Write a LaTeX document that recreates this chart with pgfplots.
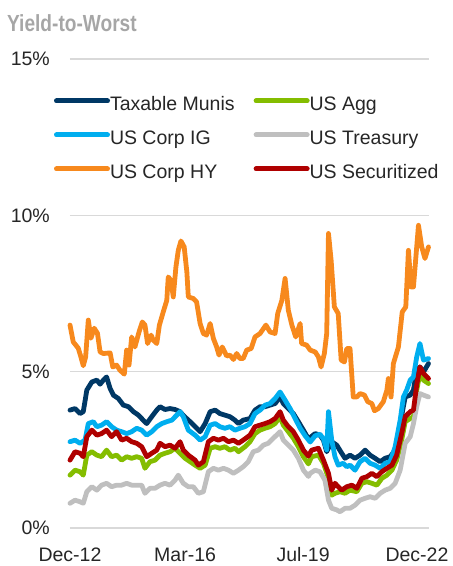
\documentclass[border=0pt]{standalone}
\usepackage{fontspec}
\setmainfont{Liberation Sans}
\usepackage{graphicx}
\usepackage{pgfplots}
\pgfplotsset{compat=1.18}
\definecolor{cnavy}{RGB}{0,56,101}
\definecolor{cgreen}{RGB}{132,189,0}
\definecolor{cblue}{RGB}{0,174,239}
\definecolor{cgray}{RGB}{191,191,191}
\definecolor{corange}{RGB}{247,137,29}
\definecolor{cred}{RGB}{175,0,0}
\definecolor{gridgray}{RGB}{217,217,217}
\definecolor{textgray}{RGB}{38,38,38}
\definecolor{titlegray}{RGB}{166,166,166}
\begin{document}
\begin{tikzpicture}
\begin{axis}[
  scale only axis, width=358.5bp, height=469bp,
  xmin=0, xmax=121.5, ymin=0, ymax=15,
  axis line style={draw=none},
  major tick length=0pt,
  ytick={0,5,10,15}, yticklabels={0\%,5\%,10\%,15\%},
  xtick={0,39,79,117.6}, xticklabels={Dec-12,Mar-16,Jul-19,Dec-22},
  ymajorgrids, grid style={color=gridgray, line width=1.5bp},
  tick label style={font=\fontsize{19.5bp}{23bp}\selectfont, text=textgray},
  yticklabel style={anchor=east, inner sep=0pt, xshift=-20bp},
  xticklabel style={anchor=base, inner sep=0pt, yshift=-33.5bp},
  clip=false,
  every axis plot/.append style={line width=4.8bp, line join=round, line cap=round},
  legend columns=2,
  legend cell align=left,
  legend image code/.code={\draw[#1,line width=5bp,line cap=round] (0bp,5bp) -- (51bp,5bp);},
  legend style={draw=none, fill=none, inner sep=0pt, outer sep=0pt,
    at={(-0.0446,0.919)}, anchor=north west,
    font=\fontsize{19.5bp}{23bp}\selectfont, text=textgray,
    row sep=16bp,
    nodes={inner sep=0pt, text height=14bp, text depth=4bp},
    /tikz/every odd column/.style={column sep=0bp},
    /tikz/every even column/.style={column sep=19bp}},
]
% Taxable Munis
\addplot[cnavy] coordinates {
(0,3.77)(1.7,3.82)(3.4,3.66)(4.5,3.72)(5.7,4.41)(7.4,4.67)(9.1,4.73)(10.2,4.60)(11.3,4.73)(12.4,4.83)
(13.6,4.46)(14.7,4.25)(16.4,4.14)(18.1,3.93)(19.8,3.88)(21.5,3.72)(23.2,3.61)(24.8,3.45)(26.0,3.34)(27.7,3.56)
(29.4,3.77)(30.5,3.88)(32.2,3.79)(33.9,3.82)(35.6,3.79)(37.3,3.72)(38.4,3.60)(40.7,3.40)(42.4,3.24)(44.1,3.08)
(45.8,3.34)(47.5,3.72)(49.2,3.77)(50.8,3.66)(52.5,3.61)(54.2,3.56)(55.9,3.45)(57.1,3.34)(58.7,3.45)(61.0,3.50)
(62.7,3.77)(64.4,3.88)(66.1,3.88)(67.8,3.93)(69.5,3.98)(71.2,4.19)(72.3,3.98)(74.0,3.82)(75.7,3.66)(77.4,3.40)
(79.1,3.13)(80.8,2.85)(83.1,3.02)(84.7,2.97)(85.9,2.81)(87.0,2.44)(88.7,2.76)(90.4,2.65)(92.1,2.39)(93.2,2.23)
(94.9,2.33)(96.6,2.23)(98.3,2.33)(100.0,2.49)(101.7,2.33)(103.4,2.23)(105.1,2.12)(106.8,2.23)(108.5,2.28)(110.2,2.49)
(111.9,3.34)(113.6,4.19)(115.3,4.25)(116.4,4.41)(117.5,5.05)(118.6,5.15)(119.8,4.99)(121.5,5.26)
};
\addlegendentry{Taxable Munis}
% US Agg
\addplot[cgreen] coordinates {
(0,1.69)(1.7,1.85)(3.4,1.80)(4.5,1.69)(5.7,2.33)(7.4,2.44)(9.1,2.33)(10.7,2.28)(12.4,2.49)(14.1,2.28)
(15.8,2.33)(17.5,2.17)(19.2,2.28)(20.9,2.23)(22.6,2.28)(24.3,2.23)(25.4,1.91)(27.1,2.12)(28.8,2.17)(30.5,2.33)
(32.2,2.39)(33.9,2.44)(35.6,2.55)(37.3,2.39)(39.0,2.23)(40.7,2.12)(42.4,2.01)(44.1,1.91)(45.8,2.01)(47.5,2.55)
(49.2,2.60)(50.8,2.55)(52.5,2.60)(54.2,2.49)(55.9,2.55)(57.1,2.44)(59.3,2.60)(61.0,2.76)(62.7,3.02)(64.4,3.13)
(66.1,3.19)(67.8,3.24)(69.5,3.34)(71.2,3.56)(72.3,3.29)(74.0,3.08)(75.7,2.87)(77.4,2.60)(79.1,2.28)(80.8,2.05)
(81.9,2.28)(84.2,2.33)(85.9,2.07)(87.6,1.59)(88.7,1.05)(89.8,1.11)(91.5,1.16)(93.2,1.11)(94.9,1.21)(97.2,1.16)
(98.9,1.43)(100.6,1.48)(102.3,1.43)(104.0,1.37)(105.7,1.59)(107.4,1.69)(109.1,1.85)(110.7,2.17)(112.4,2.81)(113.6,3.40)
(115.3,3.50)(116.4,3.56)(117.5,4.41)(118.6,4.94)(119.8,4.73)(121.5,4.62)
};
\addlegendentry{US Agg}
% US Corp IG
\addplot[cblue] coordinates {
(0,2.76)(1.7,2.81)(3.4,2.71)(5.1,2.81)(6.2,3.34)(7.9,3.40)(9.1,3.24)(10.7,3.29)(12.4,3.40)(14.1,3.24)
(15.8,3.13)(17.5,3.08)(19.2,3.02)(20.9,3.08)(22.6,3.19)(24.3,3.13)(26.0,2.97)(27.7,3.08)(29.4,3.24)(31.1,3.34)
(32.8,3.40)(34.5,3.45)(36.7,3.66)(37.3,3.72)(38.4,3.56)(40.1,3.13)(42.4,2.97)(44.1,2.81)(45.8,2.92)(47.5,3.29)
(49.2,3.34)(50.8,3.24)(52.5,3.19)(54.2,3.24)(55.9,3.13)(57.6,3.19)(59.3,3.24)(61.0,3.34)(62.7,3.66)(64.4,3.77)
(66.1,3.93)(67.8,3.98)(69.5,4.14)(71.2,4.35)(72.9,4.09)(74.6,3.82)(76.3,3.50)(78.0,3.19)(79.7,2.95)(81.4,2.75)
(83.1,2.95)(84.7,3.00)(85.9,2.85)(87.0,2.50)(87.6,3.72)(88.7,2.81)(89.8,2.28)(90.9,2.01)(92.6,2.07)(93.8,1.96)
(94.9,2.01)(96.6,1.85)(98.3,2.12)(100.0,2.23)(101.7,2.07)(103.4,2.01)(105.1,1.91)(106.8,2.07)(108.5,2.12)(110.2,2.60)
(111.9,3.45)(113.0,4.19)(114.1,4.41)(115.3,4.73)(116.4,4.83)(117.5,5.47)(118.6,5.90)(119.8,5.37)(121.5,5.42)
};
\addlegendentry{US Corp IG}
% US Treasury
\addplot[cgray] coordinates {
(0,0.79)(1.7,0.89)(3.4,0.84)(4.5,0.79)(5.7,1.16)(7.4,1.32)(9.1,1.21)(10.7,1.37)(12.4,1.43)(14.1,1.32)
(15.8,1.37)(17.5,1.37)(19.2,1.43)(20.9,1.37)(22.6,1.37)(24.3,1.37)(25.4,1.11)(27.1,1.27)(28.8,1.27)(30.5,1.37)
(32.2,1.43)(33.9,1.37)(35.6,1.53)(36.7,1.69)(38.4,1.43)(40.1,1.32)(41.8,1.32)(43.5,1.11)(45.2,1.16)(46.9,1.80)
(48.6,1.91)(50.3,1.85)(52.0,1.91)(53.7,1.85)(55.4,1.75)(57.1,1.85)(58.7,1.96)(60.4,2.12)(62.1,2.44)(63.8,2.49)
(65.5,2.65)(67.2,2.71)(68.9,2.87)(71.2,3.08)(72.3,2.81)(74.0,2.65)(75.7,2.49)(77.4,2.23)(79.1,1.85)(80.8,1.65)
(81.4,1.75)(83.1,1.85)(84.7,1.80)(86.4,1.53)(87.6,0.89)(88.7,0.63)(90.4,0.58)(91.5,0.52)(93.2,0.63)(94.9,0.63)
(96.6,0.73)(98.3,0.89)(100.0,0.95)(101.7,1.00)(103.4,0.95)(105.1,1.11)(106.8,1.21)(108.5,1.27)(110.2,1.43)(111.9,1.85)
(113.6,2.71)(115.3,2.92)(116.4,3.34)(117.5,3.88)(118.6,4.30)(119.8,4.25)(121.5,4.19)
};
\addlegendentry{US Treasury}
% US Corp HY
\addplot[corange] coordinates {
(0,6.49)(1.1,5.95)(2.8,5.75)(3.7,5.47)(4.5,5.19)(5.3,5.47)(6.2,6.65)(7.1,6.07)(8.2,6.39)(9.3,6.23)
(10.2,5.63)(11.3,5.58)(13.6,5.60)(14.5,5.15)(15.8,5.21)(16.9,5.05)(18.4,4.92)(19.2,5.69)(20.0,5.21)(20.9,6.11)
(22.0,5.79)(23.4,6.27)(24.5,6.59)(25.4,6.49)(26.3,5.90)(27.5,6.17)(28.2,6.01)(29.4,5.90)(30.3,6.49)(31.6,6.91)
(32.8,7.28)(33.3,8.03)(34.2,7.92)(35.0,7.39)(35.9,8.35)(36.7,8.88)(37.6,9.18)(38.7,8.99)(39.6,8.19)(40.1,7.39)
(41.8,7.34)(42.9,7.23)(44.1,6.54)(45.2,6.22)(46.3,6.17)(47.5,6.54)(48.6,6.06)(49.7,5.79)(50.5,5.53)(51.6,5.79)
(53.1,5.50)(54.2,5.53)(55.4,5.39)(56.5,5.58)(57.6,5.42)(58.7,5.42)(59.9,5.69)(61.4,5.74)(62.7,6.11)(64.4,6.22)
(66.4,6.49)(67.8,6.27)(69.5,6.22)(70.4,6.86)(71.8,7.28)(72.9,7.98)(74.0,6.96)(75.2,6.49)(76.5,6.11)(78.0,6.54)
(78.5,5.90)(80.2,5.85)(81.4,5.69)(83.1,5.63)(84.2,5.47)(85.1,5.15)(86.2,5.58)(87.0,6.22)(87.6,9.42)(88.5,8.56)
(89.6,7.07)(90.9,6.86)(91.9,5.37)(93.0,5.31)(93.8,5.74)(94.9,5.74)(96.0,4.19)(97.2,4.19)(98.3,4.30)(99.8,4.25)
(100.9,4.04)(102.3,3.98)(103.2,3.75)(104.5,3.82)(106.2,4.04)(107.4,4.41)(107.9,4.78)(108.8,4.19)(109.6,5.26)(111.3,5.79)
(112.6,6.91)(113.8,7.07)(114.7,8.88)(115.6,7.71)(116.4,7.71)(118.1,9.68)(119.2,8.99)(120.3,8.62)(121.5,8.99)
};
\addlegendentry{US Corp HY}
% US Securitized
\addplot[cred] coordinates {
(0,2.17)(1.7,2.44)(3.4,2.39)(4.5,2.28)(5.7,2.92)(7.4,3.13)(9.1,2.97)(10.7,3.02)(12.4,3.13)(14.1,2.92)
(15.8,3.08)(17.5,2.81)(19.2,2.87)(20.9,2.76)(22.6,2.71)(24.3,2.60)(26.0,2.28)(27.7,2.39)(29.4,2.49)(30.5,2.71)
(32.2,2.60)(33.9,2.65)(35.6,2.55)(37.3,2.76)(38.4,2.49)(40.1,2.33)(42.4,2.17)(43.5,2.01)(45.2,2.12)(46.9,2.76)
(48.6,2.87)(50.3,2.81)(52.0,2.87)(53.7,2.76)(55.4,2.81)(57.1,2.71)(58.7,2.81)(61.0,2.97)(62.7,3.24)(64.4,3.29)
(66.1,3.34)(67.8,3.40)(69.5,3.50)(71.2,3.72)(72.3,3.45)(74.0,3.24)(75.7,3.08)(77.4,2.81)(79.1,2.49)(80.8,2.30)
(81.9,2.49)(84.2,2.55)(85.9,2.17)(87.6,1.75)(88.7,1.21)(89.8,1.43)(90.9,1.32)(92.1,1.21)(93.8,1.32)(95.5,1.37)
(97.2,1.27)(98.9,1.59)(100.6,1.64)(102.3,1.75)(104.0,1.64)(105.7,1.80)(107.4,1.91)(109.1,2.01)(110.7,2.33)(112.4,3.02)
(113.6,3.56)(115.3,3.72)(116.4,3.77)(117.5,4.57)(118.6,5.15)(119.8,4.94)(121.5,4.78)
};
\addlegendentry{US Securitized}
\end{axis}
\node[anchor=base west, inner sep=0pt, text=titlegray, font=\bfseries\fontsize{23.3bp}{26bp}\selectfont] at (-63bp,496.3bp) {\scalebox{0.82}[1]{Yield-to-Worst}};
\pgfresetboundingbox
\useasboundingbox (-70bp,-38bp) rectangle (383bp,528bp);
\end{tikzpicture}
\end{document}
